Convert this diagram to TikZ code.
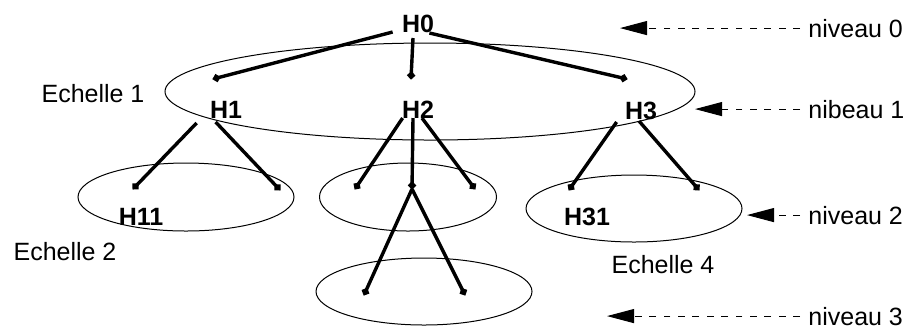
\documentclass[tikz,border=0pt]{standalone}
\usepackage{fontspec}
\setmainfont{Liberation Sans}
\usetikzlibrary{shapes.geometric, arrows.meta}

\begin{document}
\begin{tikzpicture}[x=0.5pt, y=-0.5pt,
    every node/.style={font=\fontsize{12.5}{14}\selectfont},
    hlabel/.style={inner sep=0pt, anchor=base, font=\fontsize{12.5}{14}\selectfont\bfseries},
    scalelabel/.style={inner sep=0pt, anchor=base},
    levellabel/.style={inner xsep=4pt, inner ysep=0pt, anchor=base west},
    levelbox/.style={draw, ellipse, inner sep=0pt, line width=0.5pt},
    branch/.style={line width=1.7pt, -{Circle[length=3.6pt]}},
    levelarrow/.style={line width=0.5pt, dash pattern=on 3.4pt off 3.8pt, -{Triangle[length=13.5pt, width=7pt]}}]
  \useasboundingbox (0,0) rectangle (908,329);

  % Ellipses (echelles)
  \node [levelbox, minimum width=265pt, minimum height=48.5pt] (e1) at (430,91.5) {};
  \node [levelbox, minimum width=108pt, minimum height=34pt] (e2) at (186,197) {};
  \node [levelbox, minimum width=88.5pt, minimum height=34pt] (e3) at (408,197) {};
  \node [levelbox, minimum width=108pt, minimum height=33.5pt] (e5) at (424,291.5) {};
  \node [levelbox, minimum width=108pt, minimum height=33.5pt] (e4) at (634,208.5) {};

  % Labels
  \node [hlabel] (h0) at (418,32) {H0};
  \node [hlabel] (h1) at (226,118) {H1};
  \node [hlabel] (h2) at (418,118) {H2};
  \node [hlabel] (h3) at (641,119) {H3};
  \node [hlabel] (h11) at (141,225) {H11};
  \node [hlabel] (h31) at (587,225) {H31};
  \node [scalelabel] (s1) at (93,102) {Echelle 1};
  \node [scalelabel] (s2) at (65,260) {Echelle 2};
  \node [scalelabel] (s4) at (663,273) {Echelle 4};

  % Branch ends
  \coordinate (d1) at (213,79);
  \coordinate (d2) at (411,79);
  \coordinate (d3) at (627,79);
  \coordinate (d11) at (133,189);
  \coordinate (d12) at (280,190);
  \coordinate (d21) at (355,189);
  \coordinate (d22) at (412,189);
  \coordinate (d23) at (475,189);
  \coordinate (d221) at (364,295);
  \coordinate (d222) at (465,295);
  \coordinate (d31) at (569,190);
  \coordinate (d32) at (699,190);

  % Branches
  \draw [branch] ([xshift=-4.5pt]h0.base west) -- (d1);
  \draw [branch] ([xshift=-2.5pt, yshift=-3pt]h0.base) -- (d2);
  \draw [branch] ([xshift=-2.5pt, yshift=-0.5pt]h0.base east) -- (d3);
  \draw [branch] ([xshift=-6.5pt, yshift=-2.5pt]h1.base west) -- (d11);
  \draw [branch] ([xshift=3pt, yshift=-2pt]h1.base west) -- (d12);
  \draw [branch] ([xshift=0.5pt]h2.base west) -- (d21);
  \draw [branch] ([xshift=-2.5pt]h2.base) -- (d22);
  \draw [branch] ([xshift=2pt]h2.base) -- (d23);
  \draw [branch] (d22) -- (d221);
  \draw [branch] (d22) -- (d222);
  \draw [branch] ([xshift=-4pt, yshift=-1.5pt]h3.base west) -- (d31);
  \draw [branch] ([xshift=-1pt, yshift=-1pt]h3.base) -- (d32);

  % Niveaux
  \node [levellabel] (n0) at (800,37) {niveau 0};
  \node [levellabel] (n1) at (800,118) {nibeau 1};
  \node [levellabel] (n2) at (800,224) {niveau 2};
  \node [levellabel] (n3) at (800,325) {niveau 3};
  \coordinate (t0) at (620,27);
  \coordinate (t1) at (695,109);
  \coordinate (t2) at (747,216);
  \coordinate (t3) at (607,315);
  \draw [levelarrow] (n0.west) -- (t0 |- n0.west);
  \draw [levelarrow] (n1.west) -- (t1 |- n1.west);
  \draw [levelarrow] (n2.west) -- (t2 |- n2.west);
  \draw [levelarrow] (n3.west) -- (t3 |- n3.west);
\end{tikzpicture}
\end{document}
